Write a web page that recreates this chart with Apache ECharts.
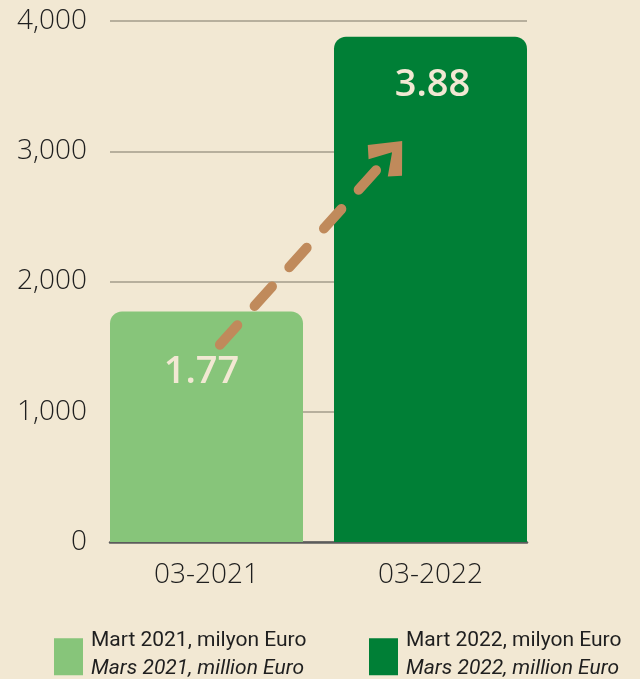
<!DOCTYPE html>
<html>
<head>
<meta charset="utf-8">
<script src="https://cdn.jsdelivr.net/npm/echarts@6/dist/echarts.min.js"></script>
<style>
  html, body { margin: 0; background: #f2e8d3; }
  #chart { width: 640px; height: 679px; }
</style>
</head>
<body>
<div id="chart"></div>
<script>
// values in milyon Euro x1000 (axis scale)
const categories = ['03-2021', '03-2022'];
const values2021 = [1770, '-'];
const values2022 = ['-', 3880];
const seriesNames = ['Mart 2021, milyon Euro', 'Mart 2022, milyon Euro'];
const seriesNamesFr = ['Mars 2021, million Euro', 'Mars 2022, million Euro'];
const yTicks = [0, 1000, 2000, 3000, 4000];
// arrow ends in [category position, value] space
const arrowFrom = [0.56, 1515];
const arrowTo = [1.32, 2975];

const BG = '#f2e8d3';
const TEXT = '#1f1f1f';
const LIGHT = '#87c57a';
const DARK = '#007f36';
const NARROW = 'Roboto, "DejaVu Sans Condensed", sans-serif';

const chart = echarts.init(document.getElementById('chart'));

const yMin = yTicks[0];
const yMax = yTicks[yTicks.length - 1];
const yStep = yTicks[1] - yTicks[0];

const barLabel = (dist, off) => ({
  show: true,
  position: 'insideTop',
  distance: dist,
  offset: off,
  formatter: (p) => (p.value / 1000).toFixed(2),
  fontFamily: 'Open Sans',
  fontSize: 38,
  fontWeight: 600,
  color: BG
});

const legendFor = (i, left) => ({
  left: left,
  top: 630,
  padding: 0,
  orient: 'vertical',
  data: [seriesNames[i]],
  icon: 'rect',
  itemWidth: 29,
  itemHeight: 37,
  selectedMode: false,
  formatter: (name) => '{a|' + name + '}\n{b|' + seriesNamesFr[seriesNames.indexOf(name)] + '}',
  textStyle: {
    padding: [0, 0, 4, 3],
    rich: {
      a: { fontFamily: NARROW, fontSize: 21, lineHeight: 28.5, color: TEXT },
      b: { fontFamily: NARROW, fontSize: 21, lineHeight: 28.5, color: TEXT, fontStyle: 'italic' }
    }
  }
});

const option = {
  backgroundColor: BG,
  animation: false,
  grid: [
    // grid lines + y labels
    { left: 110, right: 113, top: 21, bottom: 137 },
    // bars (slightly wider so bars sit flush with the grid lines)
    { left: 94.5, right: 97.5, top: 21, bottom: 137 }
  ],
  xAxis: [
    {
      type: 'category', gridIndex: 0, data: categories,
      axisLabel: { show: false }, axisTick: { show: false },
      axisLine: { lineStyle: { color: '#5c5c5c', width: 2.5 } }
    },
    {
      type: 'category', gridIndex: 1, data: categories,
      axisLine: { show: false }, axisTick: { show: false },
      axisLabel: { margin: 19, fontFamily: 'Open Sans', fontWeight: 300, fontSize: 28, color: TEXT }
    },
    { type: 'value', gridIndex: 1, min: 0, max: 2, show: false }
  ],
  yAxis: [
    {
      type: 'value', gridIndex: 0, min: yMin, max: yMax, interval: yStep,
      axisLine: { show: false }, axisTick: { show: false },
      axisLabel: {
        margin: 23, fontFamily: 'Open Sans', fontWeight: 300, fontSize: 28, color: TEXT,
        padding: [4, 0, 0, 0],
        formatter: (v) => v.toLocaleString('en-US')
      },
      splitLine: { lineStyle: { color: '#b7af9d', width: 2 } }
    },
    { type: 'value', gridIndex: 1, min: yMin, max: yMax, interval: yStep, show: false }
  ],
  legend: [legendFor(0, 54), legendFor(1, 369)],
  series: [
    {
      name: seriesNames[0], type: 'bar', xAxisIndex: 1, yAxisIndex: 1,
      stack: 'v', barWidth: 193, data: values2021,
      itemStyle: { color: LIGHT, borderRadius: [12, 12, 0, 0] },
      label: barLabel(42, [-5, 0])
    },
    {
      name: seriesNames[1], type: 'bar', xAxisIndex: 1, yAxisIndex: 1,
      stack: 'v', barWidth: 193, data: values2022,
      itemStyle: { color: DARK, borderRadius: [12, 12, 0, 0] },
      label: barLabel(30, [2, 0])
    },
    {
      name: 'arrow', type: 'line', xAxisIndex: 2, yAxisIndex: 1, data: [],
      silent: true, z: 5,
      markLine: {
        silent: true,
        symbol: ['none', 'path://M50,0 L100,72 L78,100 L50,42 L22,100 L0,72 Z'],
        symbolSize: [46, 36],
        label: { show: false },
        lineStyle: { color: '#c08a5b', width: 10, type: [26, 26], cap: 'round', opacity: 1 },
        itemStyle: { color: '#c08a5b' },
        data: [[{ coord: arrowFrom }, { coord: arrowTo }]]
      }
    }
  ]
};

chart.setOption(option);
</script>
</body>
</html>
